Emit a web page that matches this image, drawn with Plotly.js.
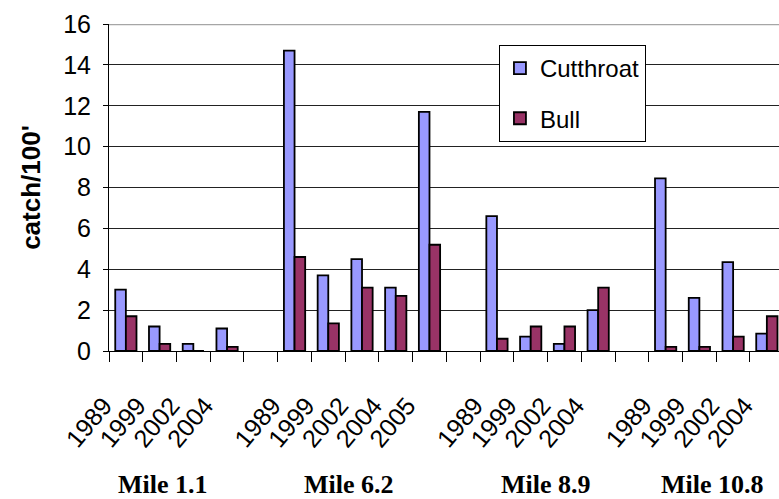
<!DOCTYPE html>
<html>
<head>
<meta charset="utf-8">
<script src="https://cdn.plot.ly/plotly-3.0.1.min.js"></script>
<style>
  html, body { margin: 0; padding: 0; background: #fff; }
  #chart { width: 779px; height: 499px; }
</style>
</head>
<body>
<div id="chart"></div>
<script>
// Electrofishing catch per 100 ft, by site and survey year
const sites = ['Mile 1.1', 'Mile 6.2', 'Mile 8.9', 'Mile 10.8'];
const siteYears = [
  ['1989', '1999', '2002', '2004'],
  ['1989', '1999', '2002', '2004', '2005'],
  ['1989', '1999', '2002', '2004'],
  ['1989', '1999', '2002', '2004']
];
const cutthroat = [
  [3.0, 1.2, 0.35, 1.1],
  [14.7, 3.7, 4.5, 3.1, 11.7],
  [6.6, 0.7, 0.35, 2.0],
  [8.45, 2.6, 4.35, 0.85]
];
const bull = [
  [1.7, 0.35, 0, 0.2],
  [4.6, 1.35, 3.1, 2.7, 5.2],
  [0.6, 1.2, 1.2, 3.1],
  [0.2, 0.2, 0.7, 1.7]
];

// Lay the sites out along one axis, leaving an empty slot between sites
const xs = [], years = [], cVals = [], bVals = [], siteCentres = [];
let slot = 0;
sites.forEach((s, i) => {
  const first = slot;
  siteYears[i].forEach((y, j) => {
    xs.push(slot);
    years.push(y);
    cVals.push(cutthroat[i][j]);
    bVals.push(bull[i][j]);
    slot++;
  });
  siteCentres.push((first + slot - 1) / 2);
  slot++;
});
const lastSlot = slot - 2;

const sans = 'Liberation Sans, Arial, sans-serif';
const serif = 'Liberation Serif, Times New Roman, serif';

const traces = [
  {
    type: 'bar', name: 'Cutthroat', legendgroup: 'c',
    x: xs, y: cVals,
    marker: { color: '#9999ff', line: { color: '#000', width: 1.8 } }
  },
  {
    type: 'bar', name: 'Bull', legendgroup: 'b',
    x: xs, y: bVals,
    marker: { color: '#993366', line: { color: '#000', width: 1.8 } }
  }
];

// small horizontal nudges for the site captions
const captionNudge = [-0.4, -0.4, -0.05, -0.1];

const layout = {
  width: 779, height: 499,
  margin: { l: 109, r: 0, t: 24, b: 148 },
  paper_bgcolor: '#fff', plot_bgcolor: '#fff',
  barmode: 'group', bargap: 0.37, bargroupgap: 0,
  font: { family: sans, color: '#000', size: 25 },
  xaxis: {
    range: [-0.5, lastSlot + 0.36],
    tickmode: 'array', tickvals: xs, ticktext: years,
    tickangle: -50,
    ticks: '', ticklabelshift: -22, ticklabelstandoff: 29,
    tickfont: { family: sans, size: 25, color: '#000' },
    showgrid: false, zeroline: false,
    showline: true, linecolor: '#000', linewidth: 1,
    minor: { tickmode: 'linear', tick0: 0.5, dtick: 1, ticks: 'outside', ticklen: 10, tickcolor: '#000', tickwidth: 1, showgrid: false },
    fixedrange: true
  },
  yaxis: {
    range: [0, 16], tickmode: 'linear', tick0: 0, dtick: 2,
    ticks: 'outside', ticklen: 5, tickcolor: '#000', tickwidth: 1,
    ticklabelstandoff: 7,
    tickfont: { family: sans, size: 25, color: '#000' },
    showgrid: true, gridcolor: '#222', gridwidth: 1,
    zeroline: false, showline: true, linecolor: '#000', linewidth: 1,
    title: { text: 'catch/100\'', font: { family: sans, size: 26, color: '#000', weight: 'bold' }, standoff: 15 },
    automargin: false,
    fixedrange: true
  },
  legend: {
    x: 0.582, y: 0.936, xanchor: 'left', yanchor: 'top',
    bgcolor: '#fff', bordercolor: '#000', borderwidth: 1,
    font: { family: sans, size: 24, color: '#000' },
    tracegroupgap: 16, traceorder: 'grouped', itemwidth: 30
  },
  shapes: [
    { type: 'line', xref: 'paper', yref: 'y', x0: 0, x1: 1, y0: 16, y1: 16,
      line: { color: '#a6a6a6', width: 2.5 }, layer: 'above' }
  ],
  annotations: sites.map((s, i) => ({
    text: '<b>' + s + '</b>', xref: 'x', yref: 'paper',
    x: siteCentres[i] + captionNudge[i], y: -0.408,
    xanchor: 'center', yanchor: 'middle', showarrow: false,
    font: { family: serif, size: 26, color: '#000' }
  })),
  showlegend: true
};

Plotly.newPlot('chart', traces, layout, { displayModeBar: false, staticPlot: true });
</script>
</body>
</html>
